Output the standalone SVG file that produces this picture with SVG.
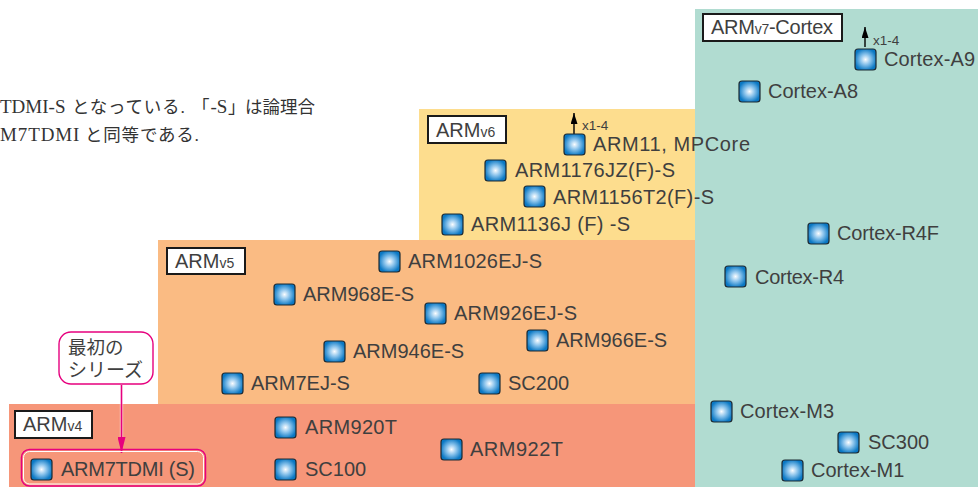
<svg xmlns="http://www.w3.org/2000/svg" width="978" height="487" viewBox="0 0 978 487">
<style>
text{font-family:"Liberation Sans",Arial,"Noto Sans CJK JP",sans-serif;fill:#3f3f3f}
.n{font-size:20px}
.i{fill:url(#g);stroke:#1d2a33;stroke-width:1.2}
.t{fill:#fff;stroke:#1a1a1a;stroke-width:2}
.l{font-size:20px}
.s{font-size:14px}
.x{font-size:13.5px}
.j{font-family:"Liberation Serif","Noto Sans CJK JP",serif;font-size:17.5px;fill:#333}
.e{font-size:19px}
.c{stroke:#000;stroke-width:1.4;fill:none}
.m{stroke:#e6007e;fill:none}
</style>
<defs>
<radialGradient id="g" cx="50%" cy="50%" r="62%">
<stop offset="0" stop-color="#fbfdff"/><stop offset=".38" stop-color="#8cc4ec"/><stop offset=".85" stop-color="#0a78c4"/>
</radialGradient>
<marker id="k" markerWidth="11" markerHeight="7" refX="11" refY="3.500" orient="auto" markerUnits="userSpaceOnUse"><path d="M0 0 11 3.500 0 7z" fill="#000"/></marker>
<marker id="p" markerWidth="16" markerHeight="8" refX="16" refY="4" orient="auto" markerUnits="userSpaceOnUse"><path d="M0 0 16 4 0 8z" fill="#e6007e"/></marker>
</defs>
<g id="background">
<rect x="695" y="9" width="283" height="478" fill="#b1dcd1"/>
<rect x="419" y="109" width="276" height="131" fill="#fddd8e"/>
<rect x="158" y="240" width="537" height="164" fill="#fabb83"/>
<rect x="9" y="404" width="686" height="83" fill="#f69679"/>
</g>
<g id="note">
<text class="j" y="113"><tspan class="e" x="0">TDMI-S</tspan><tspan x="72" letter-spacing=".8">となっている.</tspan><tspan x="192">「</tspan><tspan class="e" x="210.500">-S</tspan><tspan x="228">」</tspan><tspan x="245">は論理合</tspan></text>
<text class="j" y="141"><tspan class="e" x="0" letter-spacing=".9">M7TDMI</tspan><tspan x="85" letter-spacing=".8">と同等である.</tspan></text>
</g>
<g id="labels">
<g id="arm-v7"><rect class="t" x="703" y="14" width="139" height="27"/><text class="l" x="711" y="34" textLength="122">ARM<tspan class="s">v7</tspan>-Cortex</text></g>
<g id="arm-v6"><rect class="t" x="428" y="116" width="78" height="27"/><text class="l" x="436" y="137">ARM<tspan class="s">v6</tspan></text></g>
<g id="arm-v5"><rect class="t" x="167" y="248" width="78" height="26"/><text class="l" x="175" y="268">ARM<tspan class="s">v5</tspan></text></g>
<g id="arm-v4"><rect class="t" x="15" y="411" width="77" height="27"/><text class="l" x="23" y="431">ARM<tspan class="s">v4</tspan></text></g>
</g>
<g id="connectors">
<path class="c" d="M865 47V27" marker-end="url(#k)"/>
<path class="c" d="M574 134V113" marker-end="url(#k)"/>
<path d="M121.500 385V438" stroke="#fff" stroke-width="3.400" opacity=".5" fill="none"/>
<path class="m" stroke-width="1.600" d="M121.500 385V453" marker-end="url(#p)"/>
</g>
<g id="callout">
<rect class="m" x="59" y="332" width="94" height="52" rx="12" fill="#fff" stroke-width="1.400"/>
<text x="68" y="354" font-size="18.500">最初の</text>
<text x="68" y="377" font-size="19">シリーズ</text>
</g>
<g id="n-cortex-a9"><rect class="i" x="855" y="49" width="21" height="21" rx="3"/><text class="n" x="884" y="66" textLength="91">Cortex-A9</text><text class="x" x="873" y="45">x1-4</text></g>
<g id="n-cortex-a8"><rect class="i" x="739" y="81" width="21" height="21" rx="3"/><text class="n" x="768" y="98">Cortex-A8</text></g>
<g id="n-arm11"><rect class="i" x="564" y="134" width="21" height="21" rx="3"/><text class="n" x="593" y="151" textLength="157">ARM11, MPCore</text><text class="x" x="582" y="130">x1-4</text></g>
<g id="n-arm1176"><rect class="i" x="485" y="160" width="21" height="21" rx="3"/><text class="n" x="515" y="177" textLength="160">ARM1176JZ(F)-S</text></g>
<g id="n-arm1156"><rect class="i" x="524" y="186" width="21" height="21" rx="3"/><text class="n" x="553" y="204" textLength="161">ARM1156T2(F)-S</text></g>
<g id="n-arm1136"><rect class="i" x="442" y="214" width="21" height="21" rx="3"/><text class="n" x="471" y="231" textLength="159">ARM1136J (F) -S</text></g>
<g id="n-cortex-r4f"><rect class="i" x="808" y="223" width="21" height="21" rx="3"/><text class="n" x="837" y="240" textLength="102">Cortex-R4F</text></g>
<g id="n-cortex-r4"><rect class="i" x="725" y="266" width="21" height="21" rx="3"/><text class="n" x="755" y="284" textLength="89">Cortex-R4</text></g>
<g id="n-arm1026"><rect class="i" x="379" y="251" width="21" height="21" rx="3"/><text class="n" x="408" y="268" textLength="134">ARM1026EJ-S</text></g>
<g id="n-arm968"><rect class="i" x="274" y="284" width="21" height="21" rx="3"/><text class="n" x="303" y="301">ARM968E-S</text></g>
<g id="n-arm926"><rect class="i" x="425" y="303" width="21" height="21" rx="3"/><text class="n" x="454" y="320" textLength="123">ARM926EJ-S</text></g>
<g id="n-arm966"><rect class="i" x="527" y="330" width="21" height="21" rx="3"/><text class="n" x="556" y="347">ARM966E-S</text></g>
<g id="n-arm946"><rect class="i" x="324" y="341" width="21" height="21" rx="3"/><text class="n" x="353" y="358">ARM946E-S</text></g>
<g id="n-arm7ej"><rect class="i" x="222" y="373" width="21" height="21" rx="3"/><text class="n" x="251" y="390">ARM7EJ-S</text></g>
<g id="n-sc200"><rect class="i" x="479" y="373" width="21" height="21" rx="3"/><text class="n" x="508" y="390">SC200</text></g>
<g id="n-cortex-m3"><rect class="i" x="711" y="401" width="21" height="21" rx="3"/><text class="n" x="740" y="418" textLength="94">Cortex-M3</text></g>
<g id="n-arm920"><rect class="i" x="275" y="417" width="21" height="21" rx="3"/><text class="n" x="305" y="434" textLength="92">ARM920T</text></g>
<g id="n-arm922"><rect class="i" x="441" y="439" width="21" height="21" rx="3"/><text class="n" x="470" y="456" textLength="93">ARM922T</text></g>
<g id="n-sc300"><rect class="i" x="838" y="432" width="21" height="21" rx="3"/><text class="n" x="868" y="449">SC300</text></g>
<g id="n-sc100"><rect class="i" x="275" y="459" width="21" height="21" rx="3"/><text class="n" x="305" y="476">SC100</text></g>
<g id="n-cortex-m1"><rect class="i" x="782" y="460" width="21" height="21" rx="3"/><text class="n" x="811" y="477">Cortex-M1</text></g>
<g id="n-arm7tdmi"><rect x="21.500" y="449.500" width="184" height="36.500" rx="8" fill="none" stroke="#e6007e" stroke-width="1.500"/><rect x="23.500" y="451.500" width="180" height="32.500" rx="6" fill="none" stroke="#fff" stroke-width="1"/><rect class="i" x="31" y="459" width="21" height="21" rx="3"/><text class="n" x="61" y="476" textLength="134">ARM7TDMI (S)</text></g>
</svg>
